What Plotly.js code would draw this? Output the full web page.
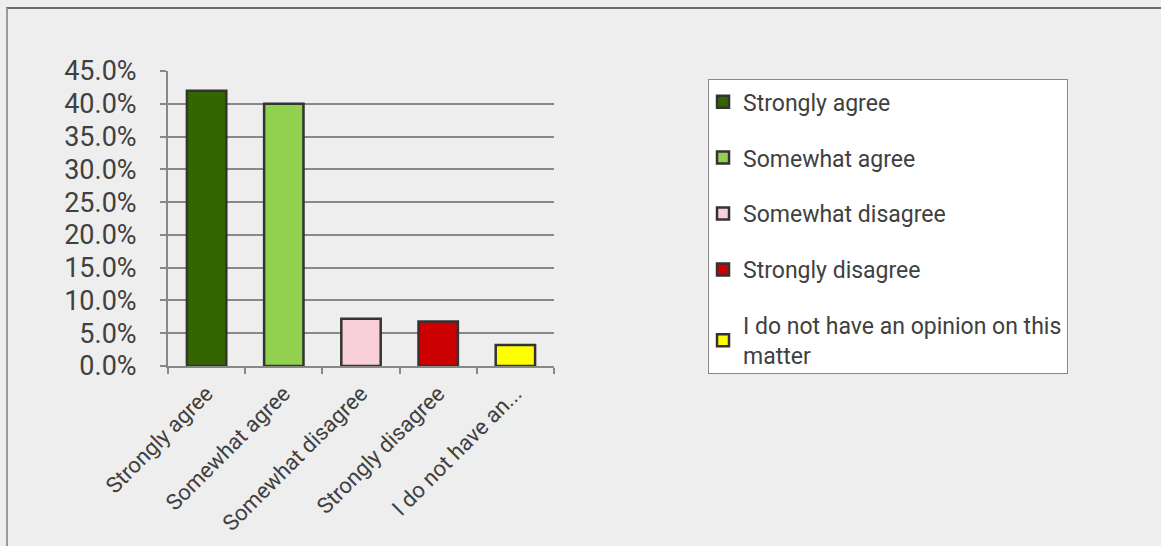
<!DOCTYPE html>
<html>
<head>
<meta charset="utf-8">
<script src="https://cdn.plot.ly/plotly-3.0.1.min.js"></script>
<style>
  html, body { margin: 0; padding: 0; background: #eeeeee; }
  #wrap { position: relative; width: 1161px; height: 546px; overflow: hidden; }
  #chart { position: absolute; left: 0; top: 0; width: 1161px; height: 546px; }
  #frame { position: absolute; left: 6px; top: 7px; width: 1200px; height: 600px;
           border-top: 2px solid #6a6a6a; border-left: 2px solid #9a9a9a; pointer-events: none; }
</style>
</head>
<body>
<div id="wrap">
  <div id="chart"></div>
  <div id="frame"></div>
</div>
<script>
const categories = ["Strongly agree", "Somewhat agree", "Somewhat disagree", "Strongly disagree", "I do not have an..."];
const legendNames = ["Strongly agree", "Somewhat agree", "Somewhat disagree", "Strongly disagree", "I do not have an opinion on this<br>matter"];
const values = [42.0, 40.0, 7.2, 6.8, 3.2];
const colors = ["#336600", "#92D050", "#F9D0D9", "#CC0000", "#FFFF00"];
const yTicks = [0, 5, 10, 15, 20, 25, 30, 35, 40, 45];

const traces = categories.map((c, i) => ({
  type: "bar",
  x: [c],
  y: [values[i]],
  name: legendNames[i],
  legendgroup: "g" + i,
  width: 0.51,
  marker: { color: colors[i], line: { color: "#333333", width: 2.5 } },
  hoverinfo: "x+y"
}));

const layout = {
  width: 1161,
  height: 546,
  paper_bgcolor: "#eeeeee",
  plot_bgcolor: "#eeeeee",
  font: { family: "Roboto, 'Liberation Sans', Arial, sans-serif", color: "#404040" },
  margin: { l: 168, r: 607, t: 71, b: 180, pad: 0 },
  barmode: "overlay",
  showlegend: true,
  legend: {
    x: 1.399, xanchor: "left", xref: "paper",
    y: 0.972, yanchor: "top", yref: "paper",
    bgcolor: "#ffffff",
    bordercolor: "#888888",
    borderwidth: 1,
    font: { size: 23, color: "#404040" },
    traceorder: "grouped",
    tracegroupgap: 23,
    itemwidth: 30,
    indentation: -6
  },
  xaxis: {
    type: "category",
    categoryorder: "array",
    categoryarray: categories,
    tickson: "boundaries",
    ticks: "outside",
    ticklen: 6,
    tickwidth: 2,
    tickcolor: "#888888",
    showline: true,
    linecolor: "#888888",
    linewidth: 2,
    showgrid: false,
    tickangle: -45,
    tickfont: { size: 22, color: "#404040" },
    ticklabelstandoff: 4
  },
  yaxis: {
    range: [0, 45],
    tickvals: yTicks,
    ticktext: yTicks.map(v => v.toFixed(1) + "%"),
    ticks: "outside",
    ticklen: 6,
    tickwidth: 2,
    tickcolor: "#888888",
    showline: true,
    linecolor: "#888888",
    linewidth: 2,
    showgrid: true,
    gridcolor: "#888888",
    gridwidth: 2,
    zeroline: false,
    tickfont: { size: 27, color: "#404040" },
    ticklabelstandoff: 18
  }
};

Plotly.newPlot("chart", traces, layout, { displayModeBar: false, staticPlot: true });
</script>
</body>
</html>
